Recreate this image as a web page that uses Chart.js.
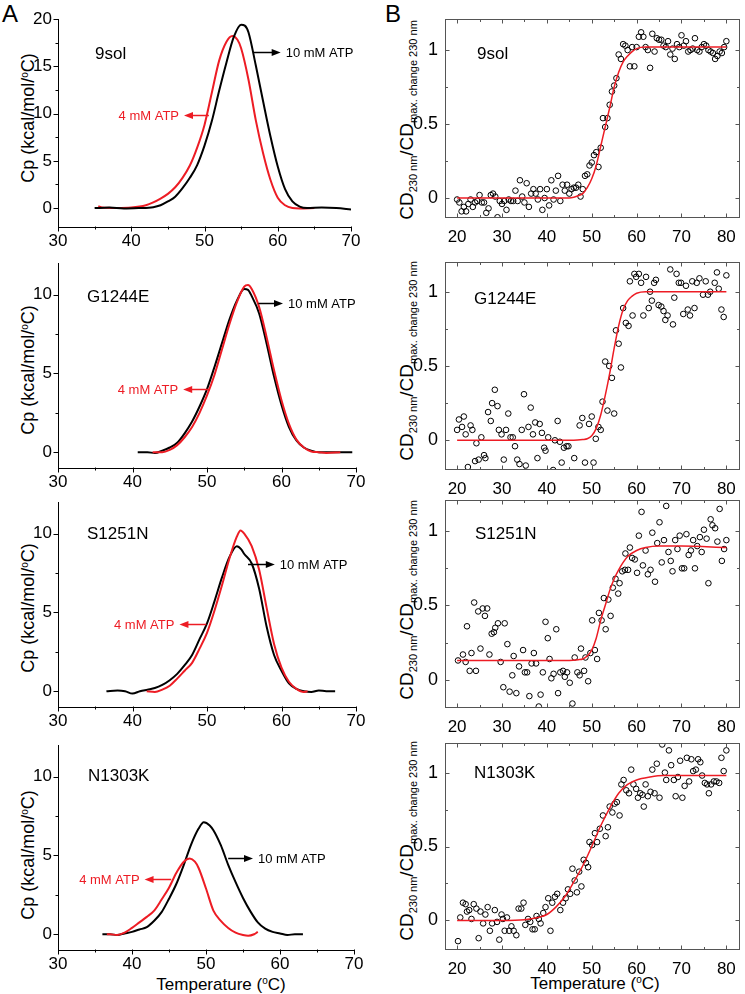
<!DOCTYPE html>
<html>
<head>
<meta charset="utf-8">
<title>DSC and CD melting of NBD1 variants</title>
<script src="https://cdn.jsdelivr.net/npm/chart.js@4.4.1/dist/chart.umd.min.js"></script>
<style>
  body { margin: 0; background: #fff; }
  #fig { position: relative; width: 745px; height: 994px; overflow: hidden; font-family: "Liberation Sans", Arial, sans-serif; color: #000; }
  #fig canvas { position: absolute; }
  .t { position: absolute; white-space: nowrap; line-height: 1; transform: translate(-50%, -50%); }
  .t.v { transform: translate(-50%, -50%) rotate(-90deg); }
  .letter { font-size: 24px; }
  .cp { font-size: 18px; }
  .cd { font-size: 19px; }
  .cd small { font-size: 11px; position: relative; top: 4px; }
  .temp { font-size: 17px; }
  .deg { font-size: 10px; position: relative; top: -6px; }
</style>
</head>
<body>
<div id="fig">
  <div class="t letter" style="left:10px;top:14px">A</div>
  <div class="t letter" style="left:393px;top:14px">B</div>

  <div class="t v cp" style="left:28px;top:118px">Cp (kcal/mol/<span class="deg">o</span>C)</div>
  <div class="t v cp" style="left:28px;top:370px">Cp (kcal/mol/<span class="deg">o</span>C)</div>
  <div class="t v cp" style="left:28px;top:608px">Cp (kcal/mol/<span class="deg">o</span>C)</div>
  <div class="t v cp" style="left:28px;top:855px">Cp (kcal/mol/<span class="deg">o</span>C)</div>

  <div class="t v cd" style="left:406px;top:120px">CD<small>230 nm</small>/CD<small>max. change 230 nm</small></div>
  <div class="t v cd" style="left:406px;top:361px">CD<small>230 nm</small>/CD<small>max. change 230 nm</small></div>
  <div class="t v cd" style="left:406px;top:600px">CD<small>230 nm</small>/CD<small>max. change 230 nm</small></div>
  <div class="t v cd" style="left:406px;top:841px">CD<small>230 nm</small>/CD<small>max. change 230 nm</small></div>

  <div class="t temp" style="left:221px;top:984px">Temperature (<span class="deg">o</span>C)</div>
  <div class="t temp" style="left:595px;top:983px">Temperature (<span class="deg">o</span>C)</div>
</div>
<script>
// ---- DSC traces (panel A) : temperature (C) and Cp (kcal/mol/C)
const temp9sol10 = [35, 37, 39, 41, 43, 44, 45, 46, 47, 48, 49, 50, 51, 52, 53, 54, 55, 55.5, 56, 57, 58, 59, 60, 61, 62, 63, 64, 66, 68, 70];
const cp9sol10 = [0, 0.05, -0.05, 0, 0.1, 0.3, 0.7, 1.2, 2.1, 3.2, 4.55, 6.6, 9.2, 12.4, 15.4, 18.1, 19.4, 19.3, 18.6, 15.1, 11.3, 7.6, 4.4, 2.0, 0.7, 0.15, 0, 0.05, 0, -0.15];
const temp9sol4 = [35.5, 36, 38, 40, 42, 43, 44, 45, 46, 47, 48, 49, 50, 51, 52, 53, 53.8, 54.5, 55, 56, 57, 58, 59, 60, 61, 62, 63, 65];
const cp9sol4 = [0.2, 0.05, 0, 0.05, 0.3, 0.6, 1.0, 1.5, 2.2, 3.2, 4.5, 6.4, 8.8, 12.2, 15.6, 17.6, 18.2, 17.8, 16.9, 13.6, 9.3, 5.8, 3.0, 1.1, 0.3, 0, -0.05, 0];

const tempG1244E10 = [40.7, 42, 43, 44, 45, 46, 47, 48, 49, 50, 51, 52, 53, 54, 55, 55.5, 56, 57, 58, 59, 60, 61, 62, 63, 64, 65, 67, 69.5];
const cpG1244E10 = [0, 0, -0.05, 0.1, 0.3, 0.6, 1.2, 1.95, 2.9, 4.0, 5.4, 6.9, 8.4, 9.6, 10.35, 10.3, 9.9, 8.8, 6.9, 4.8, 3.0, 1.6, 0.75, 0.3, 0.1, 0, 0, 0];
const tempG1244E4 = [42.7, 44, 45, 46, 47, 48, 49, 50, 51, 52, 53, 54, 55, 55.5, 56, 57, 58, 59, 60, 61, 62, 63, 64, 65, 66, 67.9];
const cpG1244E4 = [0, 0, 0.15, 0.45, 0.95, 1.6, 2.5, 3.6, 4.9, 6.5, 8.1, 9.5, 10.5, 10.6, 10.35, 9.2, 7.3, 5.2, 3.3, 1.8, 0.8, 0.3, 0.05, 0, -0.05, 0];

const tempS1251N10 = [36.5, 38, 39, 40, 41, 42, 43, 44, 45, 46, 47, 48, 49, 50, 51, 52, 53, 54, 54.6, 55, 56, 57, 58, 59, 60, 61, 62, 63, 64, 65, 66, 67.2];
const cpS1251N10 = [0, 0.05, 0, -0.15, 0, 0.1, 0.2, 0.4, 0.7, 1.1, 1.65, 2.3, 3.3, 4.3, 5.7, 7.2, 8.5, 9.2, 9.0, 8.7, 8.1, 6.5, 4.1, 2.3, 1.3, 0.5, 0.15, 0, -0.05, 0.05, 0, 0];
const tempS1251N4 = [41.9, 43, 44, 45, 46, 47, 48, 49, 50, 51, 52, 53, 54, 54.5, 55, 56, 57, 58, 59, 60, 61, 62, 63, 63.5];
const cpS1251N4 = [0, -0.05, 0.1, 0.35, 0.8, 1.3, 1.8, 2.7, 3.7, 5.1, 6.7, 8.4, 9.8, 10.2, 10.0, 9.2, 7.7, 5.3, 3.0, 1.5, 0.6, 0.15, -0.05, 0];

const tempN1303K10 = [36, 37, 38, 39, 40, 41, 42, 43, 44, 45, 46, 47, 48, 49, 49.7, 50.5, 51, 52, 53, 54, 55, 56, 57, 58, 59, 60, 61, 62, 63.1];
const cpN1303K10 = [0, 0, -0.05, 0.05, 0.15, 0.3, 0.45, 0.85, 1.4, 2.25, 3.2, 4.4, 5.7, 6.7, 7.1, 6.9, 6.6, 5.65, 4.4, 3.3, 2.3, 1.45, 0.75, 0.35, 0.15, 0.05, -0.05, 0, 0];
const tempN1303K4 = [36.6, 37, 38, 39, 40, 41, 42, 43, 44, 45, 46, 47, 47.8, 48.5, 49, 50, 51, 52, 53, 54, 55, 55.7, 56.5, 57];
const cpN1303K4 = [0, 0, -0.05, 0.1, 0.4, 0.75, 1.1, 1.5, 2.2, 2.95, 3.9, 4.6, 4.8, 4.6, 4.2, 2.9, 1.5, 0.85, 0.4, 0.1, -0.05, -0.1, 0, 0.15];

// ---- CD melts (panel B) : measured points and fitted curve
const cdT9sol = [20, 20.5, 21, 21.5, 22, 22.5, 23, 23.5, 24, 24.5, 25, 25.5, 26, 26.5, 27, 27.5, 28, 28.5, 29, 29.5,
  30, 30.5, 31, 31.5, 32, 32.5, 33, 33.5, 34, 34.5, 35, 35.5, 36, 36.5, 37, 37.5, 38, 38.5, 39, 39.5,
  40, 40.5, 41, 41.5, 42, 42.5, 43, 43.5, 44, 44.5, 45, 45.5, 46, 46.5, 47, 47.5, 48, 48.5, 49, 49.5,
  50, 50.5, 51, 51.5, 52, 52.5, 53, 53.5, 54, 54.5, 55, 55.5, 56, 56.5, 57, 57.5, 58, 58.5, 59, 59.5,
  60, 60.5, 61, 61.5, 62, 62.5, 63, 63.5, 64, 64.5, 65, 65.5, 66, 66.5, 67, 67.5, 68, 68.5, 69, 69.5,
  70, 70.5, 71, 71.5, 72, 72.5, 73, 73.5, 74, 74.5, 75, 75.5, 76, 76.5, 77, 77.5, 78, 78.5, 79, 79.5, 80];
const cd9sol = [-0.01, -0.03, -0.09, -0.06, -0.09, -0.04, -0.01, -0.06, -0.03, -0.02,
  0.02, -0.03, -0.03, -0.10, -0.07, 0.02, 0.03, 0.01, -0.13, -0.02,
  -0.04, -0.02, -0.08, -0.01, -0.02, -0.02, 0.05, -0.02, 0.12, 0.01,
  -0.03, 0.10, -0.06, 0.03, 0.06, 0.03, -0.01, 0.06, -0.08, 0,
  0.06, -0.05, 0.12, -0.01, 0.05, 0.15, -0.02, 0.09, 0.05, 0.09,
  0.03, 0.06, 0.07, 0.07, 0.09, 0.01, 0.06, 0.15, 0.16, 0.22,
  0.24, 0.29, 0.31, 0.21, 0.34, 0.54, 0.48, 0.54, 0.63, 0.72,
  0.76, 0.81, 0.97, 0.94, 1.04, 1.03, 1.0, 0.89, 1.02, 0.89,
  1.02, 1.09, 1.12, 1.09, 1.02, 1.0, 0.88, 1.11, 0.99, 1.08,
  1.07, 1.07, 1.03, 1.02, 1.06, 0.97, 1.01, 0.94, 1.04, 1.02,
  1.10, 1.03, 1.06, 0.99, 1.0, 1.01, 1.08, 1.0, 0.99, 1.02,
  1.04, 1.03, 1.0, 0.99, 0.98, 0.94, 0.96, 0.99, 0.98, 1.02, 1.06];
const fitT9sol = [20, 45, 46, 47, 48, 49, 50, 51, 52, 53, 54, 55, 56, 57, 58, 59, 60, 62, 80];
const fit9sol = [0, 0, 0.005, 0.015, 0.03, 0.07, 0.13, 0.22, 0.35, 0.48, 0.61, 0.75, 0.85, 0.92, 0.96, 0.99, 1.01, 1.02, 1.02];

const cdTG1244E = [20, 20.4, 21.1, 21.5, 21.9, 22.4, 23, 23.4, 24, 24.3, 24.8, 25.4, 26, 26.3, 26.9, 27.5, 27.8, 28.4, 29, 29.3,
  29.9, 30.4, 30.9, 31.4, 31.9, 32.4, 32.9, 33.4, 33.9, 34.4, 34.9, 35.3, 35.9, 36.4, 36.9, 37.4, 37.9, 38.4, 38.9, 39.4,
  39.7, 40.3, 41.4, 41.8, 42.4, 42.9, 43.3, 43.8, 44.4, 44.8, 46.1, 47.3, 47.9, 48.5, 49.4, 50, 50.4, 50.9, 51.5, 52,
  52.4, 53, 53.5, 53.9, 54.5, 55, 55.4, 56, 56.5, 57, 57.6, 58.2, 58.5, 59.1, 59.5, 59.9, 60.5, 61, 61.5, 62.1,
  62.7, 63, 63.4, 63.9, 64.3, 64.9, 65.5, 66, 66.4, 66.9, 67.5, 68.1, 68.4, 68.9, 69.4, 69.9, 70.4, 71, 71.4, 71.9,
  72.4, 72.9, 73.4, 74, 74.8, 75.4, 75.9, 76.4, 77.4, 77.9, 78.3, 78.9, 79.4, 80];
const cdG1244E = [0.07, 0.14, 0.09, 0.16, 0.04, -0.18, 0.1, 0.07, -0.14, -0.02, -0.13, 0.02, -0.1, -0.12, 0.19, 0.13, 0.25, 0.34, 0.23, 0.07,
  0.04, -0.13, 0.07, 0.18, 0.02, 0.02, -0.04, -0.13, -0.16, 0.07, 0.31, -0.17, 0.09, 0.22, 0.04, 0.12, -0.12, 0.11, 0.05, -0.05,
  -0.07, 0.02, -0.2, 0, 0.13, -0.01, -0.15, -0.05, -0.04, -0.04, -0.12, 0.1, 0.15, -0.15, 0.11, 0.16, -0.15, 0.01, 0.09, 0.07,
  0.26, 0.53, 0.2, 0.5, 0.42, 0.18, 0.74, 0.65, 0.49, 0.89, 0.79, 0.77, 1.07, 0.84, 1.12, 1.1, 1.12, 1.06, 0.84, 1.1,
  0.89, 1.0, 0.94, 1.06, 1.08, 0.91, 0.9, 0.87, 0.81, 0.84, 1.15, 0.78, 0.96, 1.12, 1.06, 1.06, 0.85, 1.04, 0.88, 0.84,
  1.07, 0.89, 1.06, 1.09, 0.98, 1.07, 0.98, 1.0, 1.06, 1.13, 1.02, 0.88, 0.83, 1.11];
const fitTG1244E = [20, 46, 48, 49, 50, 51, 52, 53, 54, 55, 56, 57, 58, 59, 60, 62, 80];
const fitG1244E = [0, 0, 0.005, 0.01, 0.03, 0.08, 0.17, 0.3, 0.45, 0.62, 0.77, 0.88, 0.94, 0.97, 0.99, 1.0, 1.0];

const cdTS1251N = [20.2, 21.3, 21.9, 22.2, 22.8, 23.2, 23.8, 24.2, 24.7, 25.2, 25.7, 26.2, 26.7, 27.2, 27.7, 28.2, 28.5, 29.1, 29.7, 30.3,
  30.6, 31.2, 31.7, 32.3, 32.6, 33.2, 33.8, 34.7, 35.1, 35.6, 36.1, 36.6, 37.1, 37.6, 38.2, 38.6, 39.1, 39.7, 40.2, 40.6,
  41, 41.5, 42.1, 42.5, 43, 43.6, 44, 44.5, 45.1, 45.7, 46.2, 46.8, 47.3, 47.6, 48.3, 48.6, 49.2, 49.7, 50.1, 50.7,
  51.2, 51.6, 52.2, 52.7, 53.1, 53.7, 54.2, 54.7, 55.3, 55.9, 56.2, 56.8, 57.4, 57.5, 58.1, 58.5, 59, 59.6, 60.1, 60.5,
  61.1, 61.4, 62, 62.5, 63.1, 63.5, 64.1, 64.6, 65.1, 65.6, 66.1, 66.6, 67.1, 67.6, 68, 68.6, 69.1, 69.6, 70.1, 70.6,
  71.1, 71.6, 72.1, 72.6, 73, 73.5, 74.1, 74.5, 75, 75.6, 76, 76.5, 76.9, 77.5, 78, 78.5, 79, 79.5, 80];
const cdS1251N = [0.13, 0.17, 0.12, 0.36, 0.06, 0.18, 0.52, 0.06, 0.46, 0.21, 0.48, 0.43, 0.48, 0.17, 0.31, 0.32, 0.35, 0.38, 0.12, -0.05,
  0.38, 0.24, -0.08, 0.03, 0.16, -0.09, 0.09, 0.2, 0.05, 0.05, -0.11, 0.11, 0.18, 0.11, -0.18, -0.1, 0.05, 0.39, 0.28, 0.14,
  0.01, 0.04, 0.34, -0.09, 0.05, 0.06, 0.02, 0.05, -0.02, -0.16, 0.15, 0.05, 0.03, 0.21, 0.06, 0.15, -0.01, 0.18, 0.4, 0.2,
  0.14, 0.45, 0.4, 0.55, 0.34, 0.54, 0.43, 0.62, 0.68, 0.58, 0.65, 0.73, 0.74, 0.85, 0.74, 0.89, 0.82, 0.81, 0.72, 0.97,
  1.13, 0.77, 0.87, 0.71, 0.74, 0.99, 0.66, 0.92, 1.06, 0.79, 0.94, 1.17, 0.86, 0.8, 0.73, 0.94, 0.88, 0.97, 0.75, 0.75,
  0.98, 0.84, 0.87, 0.94, 0.75, 0.9, 0.96, 0.86, 1.01, 0.95, 0.65, 1.08, 1.04, 1.02, 0.93, 1.15, 0.8, 0.88, 0.94];
const fitTS1251N = [20, 45, 47, 48, 49, 50, 51, 52, 53, 54, 55, 56, 57, 58, 60, 62, 65, 70, 80];
const fitS1251N = [0.13, 0.13, 0.135, 0.14, 0.16, 0.2, 0.28, 0.4, 0.5, 0.6, 0.68, 0.74, 0.79, 0.83, 0.87, 0.89, 0.9, 0.9, 0.89];

const cdTN1303K = [20.2, 20.7, 21.3, 21.9, 22.2, 22.7, 23.2, 23.7, 24.3, 24.8, 25.2, 25.8, 26.3, 26.8, 27.3, 27.8, 28.4, 28.9, 29.4, 29.9,
  30.2, 30.6, 31.1, 31.6, 32.1, 32.6, 33.2, 33.7, 34.3, 34.8, 35.2, 35.8, 36.3, 36.8, 37.3, 37.7, 38.2, 38.6, 39.2, 39.7,
  40.3, 40.8, 41.2, 41.8, 42.3, 43, 43.6, 44.2, 44.7, 45.2, 45.7, 46.2, 46.7, 47.2, 47.7, 48.2, 48.7, 49.2, 49.5, 50.1,
  50.7, 51.2, 51.8, 52.5, 53.1, 53.6, 54, 54.6, 55.1, 55.6, 56.2, 56.6, 57.1, 57.7, 58.3, 58.8, 59.3, 59.9, 60.3, 60.8,
  61.3, 61.6, 62, 62.5, 63.1, 63.5, 64, 64.5, 65.1, 65.7, 66.3, 66.6, 67.2, 67.7, 68.3, 68.7, 69.2, 69.7, 70.2, 70.7,
  71.2, 71.7, 72.2, 72.6, 73.2, 73.7, 74.2, 74.6, 75.2, 75.7, 76.1, 76.6, 77.2, 77.8, 78.4, 78.9, 79.4, 80];
const cdN1303K = [-0.14, 0.02, 0.12, 0.11, 0.06, 0.07, 0.01, 0.11, 0.08, -0.12, 0.06, -0.02, 0.04, 0.09, -0.07, -0.02, 0.07, -0.01, -0.13, 0.04,
  0.01, -0.07, 0.02, -0.07, -0.04, -0.07, -0.1, 0.08, 0.08, 0.12, -0.03, 0.01, -0.01, -0.06, -0.06, 0.03, 0.01, -0.02, 0.05, 0.09,
  0.15, -0.07, 0.12, 0.16, 0.18, 0.07, 0.12, 0.15, 0.21, 0.18, 0.35, 0.27, 0.19, 0.33, 0.23, 0.41, 0.39, 0.36, 0.53, 0.51,
  0.59, 0.53, 0.62, 0.71, 0.57, 0.63, 0.77, 0.73, 0.79, 0.8, 0.71, 0.92, 0.95, 0.88, 0.86, 1.02, 0.92, 0.89, 0.83, 0.86,
  0.85, 0.77, 0.92, 0.84, 0.87, 1.02, 0.86, 1.06, 0.83, 1.19, 1.0, 0.95, 1.15, 1.05, 0.95, 0.84, 0.97, 1.08, 0.83, 0.91,
  1.1, 0.94, 1.09, 1.01, 1.02, 1.09, 1.07, 0.98, 0.93, 0.92, 0.86, 0.92, 0.94, 0.94, 0.93, 1.1, 1.01, 1.15];
const fitTN1303K = [20, 30, 35, 38, 40, 42, 44, 46, 48, 50, 52, 54, 56, 58, 60, 63, 66, 80];
const fitN1303K = [0, 0, 0.005, 0.02, 0.04, 0.09, 0.16, 0.26, 0.37, 0.5, 0.64, 0.76, 0.86, 0.92, 0.95, 0.97, 0.98, 0.98];

// ---- tick values
const dscXMajor = [30, 40, 50, 60, 70];
const dscXMinor = [35, 45, 55, 65];
const dscYMajorBig = [0, 5, 10, 15, 20];
const dscYMinorBig = [2.5, 7.5, 12.5, 17.5];
const dscYMajor = [0, 5, 10];
const dscYMinor = [2.5, 7.5];
const cdXMajor = [20, 30, 40, 50, 60, 70, 80];
const cdXMinor = [25, 35, 45, 55, 65, 75];
const cdYMajor = [0, 0.5, 1];
const cdYMinor = [0.25, 0.75];

const RED = '#ed1c24';
const FONT = '"Liberation Sans", Arial, sans-serif';
Chart.defaults.font.family = FONT;

function pairs(xs, ys) {
  return xs.map((x, i) => ({ x: x, y: ys[i] }));
}

function addCanvas(left, top, w, h) {
  let c = document.createElement('canvas');
  c.width = w; c.height = h;
  c.style.left = left + 'px'; c.style.top = top + 'px';
  c.style.width = w + 'px'; c.style.height = h + 'px';
  document.getElementById('fig').appendChild(c);
  return c;
}

// frame, tick marks, panel name and arrow notes
const panelDecor = {
  id: 'panelDecor',
  afterDraw(chart, args, o) {
    const { ctx, chartArea: a, scales: { x, y } } = chart;
    const seg = (x1, y1, x2, y2) => { ctx.beginPath(); ctx.moveTo(x1, y1); ctx.lineTo(x2, y2); ctx.stroke(); };
    const L = Math.round(a.left) + 0.5, R = Math.round(a.right) - 0.5;
    const T = Math.round(a.top) + 0.5, B = Math.round(a.bottom) - 0.5;
    ctx.save();
    ctx.lineWidth = 1;
    ctx.strokeStyle = o.frame;
    if (o.box) ctx.strokeRect(L, T, R - L, B - T);
    const s = o.inside ? -1 : 1;
    const xMarks = (vals, len) => vals.forEach(v => {
      const px = Math.round(x.getPixelForValue(v)) + 0.5;
      seg(px, B, px, B + s * len);
      if (o.box) seg(px, T, px, T - s * len);
    });
    const yMarks = (vals, len) => vals.forEach(v => {
      const py = Math.round(y.getPixelForValue(v)) + 0.5;
      seg(L, py, L - s * len, py);
      if (o.box) seg(R, py, R + s * len, py);
    });
    xMarks(o.xMajor, o.major); xMarks(o.xMinor, o.minor);
    yMarks(o.yMajor, o.major); yMarks(o.yMinor, o.minor);

    ctx.fillStyle = '#000';
    ctx.font = '17px ' + FONT;
    ctx.textBaseline = 'middle';
    ctx.textAlign = 'left';
    ctx.fillText(o.name, a.left + o.nameAt[0], a.top + o.nameAt[1]);

    (o.notes || []).forEach(n => {
      const x0 = x.getPixelForValue(n.from), x1 = x.getPixelForValue(n.to);
      const py = Math.round(y.getPixelForValue(n.y)) + 0.5;
      const d = Math.sign(x1 - x0);
      ctx.strokeStyle = n.color; ctx.fillStyle = n.color;
      ctx.lineWidth = 1.5;
      seg(x0, py, x1 - d * 6, py);
      ctx.beginPath();
      ctx.moveTo(x1, py);
      ctx.lineTo(x1 - d * 9, py - 3.5);
      ctx.lineTo(x1 - d * 9, py + 3.5);
      ctx.closePath();
      ctx.fill();
      ctx.font = '13px ' + FONT;
      ctx.textAlign = d > 0 ? 'left' : 'right';
      ctx.fillText(n.text, x1 + d * 5, py + 1);
    });
    ctx.restore();
  }
};

function axis(min, max, major, fit, size, pad, border) {
  return {
    type: 'linear', min: min, max: max,
    afterBuildTicks: s => { s.ticks = major.map(v => ({ value: v })); },
    afterFit: fit,
    grid: { display: false, drawTicks: false },
    border: border,
    ticks: { color: '#000', font: { size: size }, padding: pad, autoSkip: false, maxRotation: 0,
      callback: v => String(v) }
  };
}

// ---- panel A : DSC
const dscPanels = [
  { name: '9sol', top: 19, bottom: 227, right: 351, yMin: -2, yMax: 20, yMajor: dscYMajorBig, yMinor: dscYMinorBig, nameAt: [37, 35],
    curves: [[temp9sol10, cp9sol10, '#000'], [temp9sol4, cp9sol4, RED]],
    notes: [{ from: 56.75, to: 60.4, y: 16.5, text: '10 mM ATP', color: '#000' }, { from: 50.6, to: 47.2, y: 9.8, text: '4 mM ATP', color: RED }] },
  { name: 'G1244E', top: 263, bottom: 468, right: 356, yMin: -1, yMax: 12, yMajor: dscYMajor, yMinor: dscYMinor, nameAt: [29, 34],
    curves: [[tempG1244E4, cpG1244E4, RED], [tempG1244E10, cpG1244E10, '#000']],
    notes: [{ from: 56.9, to: 60.2, y: 9.47, text: '10 mM ATP', color: '#000' }, { from: 50.4, to: 46.8, y: 4.0, text: '4 mM ATP', color: RED }] },
  { name: 'S1251N', top: 502, bottom: 707, right: 356, yMin: -1, yMax: 12, yMajor: dscYMajor, yMinor: dscYMinor, nameAt: [29, 32],
    curves: [[tempS1251N4, cpS1251N4, RED], [tempS1251N10, cpS1251N10, '#000']],
    notes: [{ from: 55.5, to: 59.1, y: 8.1, text: '10 mM ATP', color: '#000' }, { from: 49.9, to: 46.3, y: 4.26, text: '4 mM ATP', color: RED }] },
  { name: 'N1303K', top: 745, bottom: 950, right: 354, yMin: -1, yMax: 12, yMajor: dscYMajor, yMinor: dscYMinor, nameAt: [30, 31],
    curves: [[tempN1303K4, cpN1303K4, RED], [tempN1303K10, cpN1303K10, '#000']],
    notes: [{ from: 53.0, to: 56.35, y: 4.85, text: '10 mM ATP', color: '#000' }, { from: 45.3, to: 41.7, y: 3.5, text: '4 mM ATP', color: RED }] }
];

const axisLine = { display: true, color: '#000', width: 1 };

dscPanels.forEach(p => {
  const cv = addCanvas(0, p.top - 19, 372, p.bottom - p.top + 19 + 30);
  new Chart(cv, {
    type: 'line',
    data: {
      datasets: p.curves.map(c => ({
        data: pairs(c[0], c[1]),
        borderColor: c[2], borderWidth: 2, pointRadius: 0,
        cubicInterpolationMode: 'monotone', fill: false
      }))
    },
    options: {
      responsive: false, animation: false, devicePixelRatio: 1, events: [],
      layout: { autoPadding: false, padding: { top: 19, right: 372 - p.right, bottom: 0, left: 0 } },
      plugins: {
        legend: { display: false }, tooltip: { enabled: false },
        panelDecor: { frame: '#000', box: false, inside: false, major: 5, minor: 3,
          xMajor: dscXMajor, xMinor: dscXMinor, yMajor: p.yMajor, yMinor: p.yMinor,
          name: p.name, nameAt: p.nameAt, notes: p.notes }
      },
      scales: {
        x: axis(30, 70, dscXMajor, s => { s.height = 30; }, 17, 4, axisLine),
        y: axis(p.yMin, p.yMax, p.yMajor, s => { s.width = 58; }, 17, 6, axisLine)
      }
    },
    plugins: [panelDecor]
  });
});

// ---- panel B : CD
const cdPanels = [
  { name: '9sol', top: 19, bottom: 218, yMin: -0.135, yMax: 1.21, t: cdT9sol, v: cd9sol, ft: fitT9sol, fv: fit9sol, nameAt: [32, 35] },
  { name: 'G1244E', top: 262, bottom: 470, yMin: -0.2, yMax: 1.2, t: cdTG1244E, v: cdG1244E, ft: fitTG1244E, fv: fitG1244E, nameAt: [29, 37] },
  { name: 'S1251N', top: 500, bottom: 708, yMin: -0.19, yMax: 1.21, t: cdTS1251N, v: cdS1251N, ft: fitTS1251N, fv: fitS1251N, nameAt: [30, 34] },
  { name: 'N1303K', top: 743, bottom: 950, yMin: -0.2, yMax: 1.2, t: cdTN1303K, v: cdN1303K, ft: fitTN1303K, fv: fitN1303K, nameAt: [29, 30] }
];

cdPanels.forEach(p => {
  const cv = addCanvas(372, p.top - 19, 373, p.bottom - p.top + 19 + 34);
  new Chart(cv, {
    type: 'line',
    data: {
      datasets: [
        { data: pairs(p.ft, p.fv), borderColor: RED, borderWidth: 1.5, pointRadius: 0, cubicInterpolationMode: 'monotone', fill: false },
        { data: pairs(p.t, p.v), showLine: false, pointRadius: 2.8, pointStyle: 'circle',
          borderColor: '#000', backgroundColor: 'rgba(0,0,0,0)', pointBorderWidth: 1 }
      ]
    },
    options: {
      responsive: false, animation: false, devicePixelRatio: 1, events: [],
      layout: { autoPadding: false, padding: { top: 19, right: 4, bottom: 0, left: 0 } },
      plugins: {
        legend: { display: false }, tooltip: { enabled: false },
        panelDecor: { frame: '#555', box: true, inside: true, major: 4, minor: 2.5,
          xMajor: cdXMajor, xMinor: cdXMinor, yMajor: cdYMajor, yMinor: cdYMinor,
          name: p.name, nameAt: p.nameAt }
      },
      scales: {
        x: axis(17.3, 83, cdXMajor, s => { s.height = 34; }, 17, 9, { display: false }),
        y: axis(p.yMin, p.yMax, cdYMajor, s => { s.width = 73; }, 18, 7, { display: false })
      }
    },
    plugins: [panelDecor]
  });
});
</script>
</body>
</html>
